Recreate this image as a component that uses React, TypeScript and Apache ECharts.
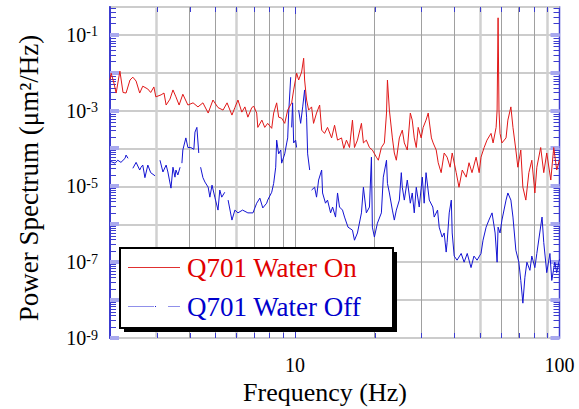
import React, { useEffect, useRef } from "react";
import * as echarts from "echarts";

const FONT = '"Liberation Serif", "Times New Roman", serif';

// Q701 Water On (red)
const onFreq = [
  2.0, 2.02, 2.07, 2.11, 2.18, 2.24, 2.3, 2.38, 2.44, 2.51, 2.59, 2.66, 2.78, 2.85, 2.93, 2.98,
  3.12, 3.2, 3.26, 3.37, 3.46, 3.55, 3.65, 3.77, 3.94, 4.12, 4.3, 4.49, 4.7, 4.9, 5.12, 5.35,
  5.54, 5.78, 5.93, 6.09, 6.3, 6.47, 6.64, 6.87, 6.99, 7.17, 7.24, 7.5, 7.69, 7.89, 8.17, 8.31,
  8.53, 8.68, 8.91, 9.15, 9.39, 9.72, 9.89, 10.15, 10.33, 10.6, 10.79, 10.88, 11.07, 11.27,
  11.56, 11.76, 12.07, 12.4, 12.62, 12.94, 13.28, 13.76, 14.12, 14.49, 15.0, 15.3, 15.66,
  16.08, 16.5, 16.79, 17.23, 17.84, 18.15, 18.62, 19.13, 19.62, 20.32, 20.67, 21.22, 21.78,
  22.19, 22.37, 22.75, 23.35, 23.75, 24.17, 24.81, 25.46, 25.91, 26.59, 27.3, 27.76, 28.25,
  28.75, 29.24, 30.0, 30.53, 31.3, 31.9, 32.8, 33.3, 34.2, 34.8, 35.7, 36.65, 37.6, 38.6, 39.3,
  40.7, 41.7, 42.9, 44.4, 45.5, 46.7, 48.4, 49.7, 50.5, 51.9, 53.2, 55.1, 56.1, 57.6, 58.1,
  58.6, 59.05, 59.6, 60.6, 62.8, 63.8, 65.5, 66.7, 68.4, 69.6, 71.4, 72.7, 74.6, 76.6, 78.6,
  80.7, 82.1, 84.9, 87.2, 89.5, 92.7, 95.1, 97.6, 100,
];
const onPower = [
  6.4e-3, 9.7e-3, 5.3e-3, 2.9e-3, 1.1e-2, 3.0e-3, 2.9e-3, 6.4e-3, 7.6e-3, 6.0e-3, 2.9e-3, 4.4e-3,
  3.7e-3, 3.0e-3, 4.2e-3, 2.3e-3, 2.6e-3, 2.9e-3, 1.4e-3, 2.0e-3, 3.5e-3, 2.3e-3, 1.4e-3, 2.7e-3,
  1.4e-3, 1.6e-3, 1.25e-3, 1.6e-3, 8.6e-4, 1.9e-3, 1.2e-3, 1.03e-3, 1.6e-3, 7.6e-4, 1.2e-3,
  1.9e-3, 9.1e-4, 1.25e-3, 6.7e-4, 1.2e-3, 1.3e-3, 8.6e-4, 3.6e-4, 5.6e-4, 3.6e-4, 4.6e-4,
  3.4e-4, 8.6e-4, 1.6e-3, 6.7e-4, 6.3e-4, 4.6e-4, 1.03e-3, 1.6e-3, 3.5e-3, 9.7e-3, 6.4e-3,
  1.04e-2, 2.4e-2, 6.4e-3, 1.9e-3, 1.03e-3, 1.25e-3, 4.6e-4, 8.6e-4, 1.4e-3, 3.05e-4, 2.5e-4,
  3.6e-4, 1.9e-4, 4.1e-4, 1.66e-4, 1.9e-4, 1.0e-4, 1.66e-4, 1.06e-4, 5.6e-4, 1.06e-4, 1.66e-4,
  4.6e-4, 1.4e-4, 1.66e-4, 1.06e-4, 9.1e-5, 5.9e-5, 4.9e-5, 1.06e-4, 1.4e-4, 8.6e-4, 6.4e-3,
  1.03e-3, 1.9e-4, 7.6e-5, 4.9e-5, 1.9e-4, 3.05e-4, 1.4e-4, 9.1e-5, 8.6e-4, 5.6e-4, 1.9e-4,
  1.06e-4, 3.6e-4, 1.9e-4, 3.6e-4, 5.6e-4, 8.6e-4, 1.9e-4, 1.4e-4, 9.1e-5, 4.2e-5, 2.3e-5,
  7.6e-5, 5.9e-5, 3.2e-5, 7.6e-5, 2.3e-5, 9.5e-6, 2.7e-5, 1.75e-5, 4.2e-5, 2.3e-5, 5.9e-5,
  2.3e-5, 5.9e-5, 1.06e-4, 1.66e-4, 2.5e-4, 1.4e-4, 3.6e-4, 1.03e-3, 0.28, 1.03e-3, 2.5e-4,
  1.4e-4, 1.9e-4, 5.6e-4, 1.25e-3, 3.6e-4, 9.1e-5, 3.2e-5, 9.1e-5, 9.5e-6, 4.35e-6, 2.3e-5,
  4.9e-5, 6.7e-6, 3.2e-5, 1.06e-4, 2.3e-5, 7.6e-5, 1.47e-5, 1.06e-4, 2.7e-5, 5.0e-5,
];

// Q701 Water Off (blue); null = gap in the trace
const offFreq = [
  2.0, 2.09, 2.14, 2.2, 2.28, 2.3, 2.34, 2.39, 2.44, 2.51, 2.59, 2.62, 2.66, 2.71, 2.78, 2.85,
  2.96, 3.02, 3.09, 3.17, 3.26, 3.31, 3.4, 3.46, 3.52, 3.55, 3.61, 3.68, 3.71, 3.74, 3.77, 3.87,
  3.94, 4.04, 4.15, 4.19, 4.26, 4.33, 4.35, 4.4, 4.49, 4.57, 4.7, 4.77, 4.86, 4.98, 5.12, 5.2,
  5.29, 5.43, 5.5, 5.59, 5.78, 5.93, 6.09, 6.34, 6.64, 6.94, 7.17, 7.37, 7.56, 7.82, 7.89, 8.17,
  8.31, 8.46, 8.53, 8.68, 8.84, 8.91, 9.15, 9.31, 9.39, 9.47, 9.64, 9.68, 9.72, 9.8, 9.89,
  10.06, 10.15, 10.24, 10.33, 10.51, 10.7, 10.88, 11.07, 11.17, 11.37, 11.46, 11.56, 11.87,
  12.07, 12.29, 12.62, 12.72, 13.05, 13.28, 13.64, 13.88, 14.24, 14.49, 14.74, 15.13, 15.4,
  15.87, 16.5, 16.79, 17.23, 17.84, 18.15, 18.62, 19.13, 19.46, 19.62, 19.97, 20.5, 21.22,
  21.58, 22.19, 22.37, 22.75, 23.35, 23.75, 24.17, 24.81, 25.24, 25.46, 25.91, 26.59, 27.3,
  27.76, 28.25, 28.75, 29.5, 30.3, 30.8, 31.3, 32.2, 33.2, 33.6, 34.6, 35.1, 36.0, 36.65, 37.3,
  37.6, 38.3, 39.0, 39.3, 40.0, 41.0, 42.5, 43.6, 44.8, 46.3, 47.5, 48.8, 50.5, 51.4, 52.8,
  54.1, 55.6, 57.1, 58.1, 58.6, 59.6, 60.6, 62.8, 63.8, 65.5, 66.7, 68.4, 70.2, 71.4, 72.7,
  74.0, 75.3, 77.3, 78.6, 80.7, 82.1, 84.2, 85.9, 87.2, 89.5, 92.0, 93.5, 96.0, 97.6, 100,
];
const offPower = [
  4.6e-5, 4.1e-5, 4.9e-5, 4.3e-5, 5.5e-5, 6.7e-5, 5.5e-5, null, 3.0e-5, 4.3e-5, 2.7e-5, 3.2e-5,
  3.65e-5, 1.7e-5, 3.65e-5, 2.3e-5, 1.9e-5, null, 4.9e-5, 2.4e-5, 3.65e-5, 2.4e-5, 9.0e-6,
  3.2e-5, 1.75e-5, 2.7e-5, 2.0e-5, 3.2e-5, null, 4.1e-5, 9.1e-5, 1.9e-4, 1.06e-4, 1.06e-4,
  9.5e-5, 2.7e-4, 3.6e-4, 7.6e-5, null, 3.2e-5, 1.7e-5, 1.3e-5, 9.5e-6, 5.2e-6, 1.08e-5,
  5.2e-6, 2.37e-6, 8.0e-6, 5.2e-6, 7.0e-6, null, 4.35e-6, 1.29e-6, 2.37e-6, 2.0e-6, 2.37e-6,
  2.0e-6, 2.0e-6, 3.6e-6, 4.9e-6, 2.7e-6, 3.6e-6, 4.35e-6, 7.0e-6, 1.2e-5, 3.2e-5, 1.66e-4,
  7.2e-5, 9.1e-5, 4.1e-5, 7.2e-5, 1.4e-4, 1.9e-4, 8.6e-4, 7.6e-3, null, 3.6e-4, 1.6e-3,
  1.4e-4, 1.66e-4, 1.06e-4, null, 1.03e-3, 4.6e-4, 1.25e-3, 3.5e-3, 6.7e-4, 7.2e-5, 2.7e-5,
  null, 8.0e-6, 9.5e-6, 5.2e-6, 1.47e-5, 2.7e-5, 6.7e-6, 3.6e-6, 4.35e-6, 2.0e-6, 2.85e-6,
  1.55e-6, 6.7e-6, 2.85e-6, 2.37e-6, 1.55e-6, 8.4e-7, 7.0e-7, 3.8e-7, 5.9e-7, 2.0e-6, 9.5e-6,
  2.0e-6, 2.85e-6, 5.9e-5, 8.4e-7, 4.6e-7, 1.07e-6, 2.0e-6, 1.75e-5, 4.9e-5, 1.2e-5, 6.7e-6,
  2.37e-6, 1.29e-6, 2.37e-6, 4.35e-6, 2.3e-5, 9.5e-6, 4.35e-6, 1.47e-5, 3.6e-6, 6.7e-6,
  2.0e-6, 9.5e-6, 2.85e-6, 1.75e-5, 3.6e-6, 2.3e-5, 4.35e-6, 2.85e-6, 1.55e-6, 2.37e-6,
  8.4e-7, 4.6e-7, 5.9e-7, 1.85e-7, 3.3e-7, 2.0e-6, 4.35e-6, 5.9e-7, 1.45e-7, 1.13e-7, 1.7e-7,
  1.0e-7, 1.7e-7, 7.2e-8, 1.45e-7, 1.13e-7, 1.7e-7, 3.8e-7, 8.4e-7, 1.29e-6, 2.0e-6, 5.9e-7,
  1.0e-7, 8.4e-7, 5.9e-7, 1.29e-6, 4.35e-6, 6.7e-6, 4.35e-6, 1.55e-6, 2.07e-7, 1.0e-7, 3.3e-8,
  8.3e-9, 4.0e-8, 1.0e-7, 6.1e-8, 1.45e-7, 7.2e-8, 1.7e-7, 5.9e-7, 1.55e-6, 3.3e-7, 5.3e-8,
  1.7e-7, 3.3e-8, 1.0e-7, 5.3e-8, 1.2e-7,
];

const seriesNames = ["Q701 Water On", "Q701 Water Off"];
const xLabelValues = [10, 100];
const xGridLight = [3, 6, 50, 90];
const xGridDark = [4, 5, 7, 8, 9, 10, 20, 30, 40, 60, 70, 80];
const X_MIN = 2;
const X_MAX = 100;
const Y_MIN = 1e-9;
const Y_MAX = 0.54;

export default function App() {
  const ref = useRef<HTMLDivElement>(null);

  useEffect(() => {
    if (!ref.current) return;
    const chart = echarts.init(ref.current, null, { renderer: "svg" });

    const onData = onFreq.map((f, i) => [f, onPower[i]]);
    const offData = offFreq.map((f, i) => [f, offPower[i] == null ? "-" : offPower[i]]);

    // axis tick marks: [x, y, kind]  kind 0 = y minor, 1 = y decade, 2 = x minor, 3 = x decade
    const tickData: number[][] = [];
    for (let e = -9; e <= -1; e++) {
      tickData.push([X_MIN, Math.pow(10, e), 1]);
      for (let k = 2; k <= 9; k++) {
        const v = k * Math.pow(10, e);
        if (v < Y_MAX) tickData.push([X_MIN, v, 0]);
      }
    }
    [...xGridLight, ...xGridDark].forEach((v) =>
      tickData.push([v, Y_MIN, v === 10 ? 3 : 2])
    );

    const gridLines = [
      ...xGridLight.map((v) => ({ xAxis: v, lineStyle: { color: "#d0d0d0", width: 2.5, type: "solid" } })),
      ...xGridDark.map((v) => ({ xAxis: v, lineStyle: { color: "#a0a0a0", width: 1, type: "solid" } })),
    ];

    const isDecade = (v: number) => Math.abs(Math.log10(v) - Math.round(Math.log10(v))) < 1e-6;
    const Z = 100;

    chart.setOption({
      animation: false,
      textStyle: { fontFamily: FONT },
      grid: {
        left: 110,
        right: 19.5,
        top: 7,
        bottom: 71,
        show: true,
        borderColor: "#3c3cd0",
        borderWidth: 1.5,
        backgroundColor: "#ffffff",
      },
      xAxis: {
        type: "log",
        logBase: 10,
        min: X_MIN,
        max: X_MAX,
        axisLine: { show: false },
        axisTick: { show: false },
        splitLine: { show: false },
        axisLabel: {
          margin: 17,
          color: "#000",
          fontSize: 20,
          lineHeight: 20,
          fontFamily: FONT,
          formatter: (v: number) =>
            isDecade(v) && xLabelValues.some((t) => Math.abs(t - v) < 1e-6) ? String(Math.round(v)) : "",
        },
      },
      yAxis: {
        type: "log",
        logBase: 10,
        min: Y_MIN,
        max: Y_MAX,
        axisLine: { show: true, lineStyle: { color: "#3c3cd0", width: 2 } },
        axisTick: { show: false },
        splitLine: { show: true, lineStyle: { color: "#cccccc", width: 2 } },
        axisLabel: {
          margin: 12,
          color: "#000",
          formatter: (v: number) => {
            if (!isDecade(v)) return "";
            const e = Math.round(Math.log10(v));
            if (e % 2 === 0) return "";
            return `{b|10}{s|${e}}`;
          },
          rich: {
            b: { fontSize: 20, fontFamily: FONT, color: "#000" },
            s: { fontSize: 14, fontFamily: FONT, color: "#000", verticalAlign: "top" },
          },
        },
      },
      series: [
        {
          type: "custom",
          name: "ticks",
          data: tickData,
          encode: { x: 0, y: 1 },
          z: 1,
          silent: true,
          clip: false,
          renderItem: (params: any, api: any) => {
            const cs = params.coordSys;
            const kind = api.value(2);
            const left = cs.x;
            const right = cs.x + cs.width;
            const top = cs.y;
            const bottom = cs.y + cs.height;
            if (kind === 0 || kind === 1) {
              const y = Math.round(api.coord([X_MIN, api.value(1)])[1]);
              if (kind === 1) {
                return {
                  type: "group",
                  children: [
                    { type: "rect", shape: { x: left, y: y - 2, width: 9, height: 4 }, style: { fill: "#a9a9ee" } },
                    { type: "rect", shape: { x: right - 9, y: y - 2, width: 9, height: 4 }, style: { fill: "#a9a9ee" } },
                  ],
                };
              }
              const yy = y + 0.5;
              return {
                type: "group",
                children: [
                  { type: "line", shape: { x1: left, y1: yy, x2: left + 6, y2: yy }, style: { stroke: "#3c3cd0", lineWidth: 1 } },
                  { type: "line", shape: { x1: right - 6, y1: yy, x2: right, y2: yy }, style: { stroke: "#3c3cd0", lineWidth: 1 } },
                ],
              };
            }
            const x = Math.round(api.coord([api.value(0), Y_MIN])[0]) + 0.5;
            const len = kind === 3 ? 7 : 5;
            return {
              type: "group",
              children: [
                { type: "line", shape: { x1: x, y1: bottom, x2: x, y2: bottom - len }, style: { stroke: "#3c3cd0", lineWidth: 1 } },
                { type: "line", shape: { x1: x, y1: top, x2: x, y2: top + len }, style: { stroke: "#3c3cd0", lineWidth: 1 } },
              ],
            };
          },
          markLine: {
            silent: true,
            symbol: ["none", "none"],
            label: { show: false },
            z: 1,
            data: gridLines,
          },
        },
        {
          type: "line",
          name: seriesNames[1],
          data: offData,
          symbol: "none",
          showSymbol: false,
          connectNulls: false,
          lineStyle: { color: "#1414d2", width: 1 },
          z: 3,
        },
        {
          type: "line",
          name: seriesNames[0],
          data: onData,
          symbol: "none",
          showSymbol: false,
          lineStyle: { color: "#e01818", width: 1 },
          z: 4,
        },
      ],
      graphic: [
        {
          type: "text",
          x: 29,
          y: 178,
          rotation: Math.PI / 2,
          style: {
            text: "Power Spectrum (μm²/Hz)",
            font: `27px ${FONT}`,
            fill: "#000",
            align: "center",
            verticalAlign: "middle",
            textAlign: "center",
            textVerticalAlign: "middle",
          },
        },
        {
          type: "text",
          x: 325,
          y: 392,
          style: {
            text: "Frequency (Hz)",
            font: `26px ${FONT}`,
            fill: "#000",
            align: "center",
            verticalAlign: "middle",
            textAlign: "center",
            textVerticalAlign: "middle",
          },
        },
        { type: "rect", z: Z, shape: { x: 124, y: 252, width: 273, height: 80 }, style: { fill: "#000" } },
        { type: "rect", z: Z + 1, shape: { x: 120, y: 248, width: 273, height: 80 }, style: { fill: "#ffffff", stroke: "#000", lineWidth: 2 } },
        { type: "line", z: Z + 2, shape: { x1: 128, y1: 267.5, x2: 180, y2: 267.5 }, style: { stroke: "#e03030", lineWidth: 1 } },
        {
          type: "text",
          z: Z + 2,
          x: 187,
          y: 268,
          style: {
            text: seriesNames[0],
            font: `27px ${FONT}`,
            fill: "#e00000",
            align: "left",
            verticalAlign: "middle",
            textAlign: "left",
            textVerticalAlign: "middle",
          },
        },
        { type: "line", z: Z + 2, shape: { x1: 128, y1: 306.5, x2: 154, y2: 306.5 }, style: { stroke: "#9090ea", lineWidth: 1 } },
        { type: "rect", z: Z + 2, shape: { x: 155, y: 306, width: 1, height: 1 }, style: { fill: "#1414d2" } },
        { type: "line", z: Z + 2, shape: { x1: 168, y1: 306.5, x2: 180, y2: 306.5 }, style: { stroke: "#9090ea", lineWidth: 1 } },
        {
          type: "text",
          z: Z + 2,
          x: 187,
          y: 307,
          style: {
            text: seriesNames[1],
            font: `27px ${FONT}`,
            fill: "#0000cc",
            align: "left",
            verticalAlign: "middle",
            textAlign: "left",
            textVerticalAlign: "middle",
          },
        },
      ],
    });

    return () => chart.dispose();
  }, []);

  return (
    <div
      ref={ref}
      style={{ position: "fixed", left: 0, top: 0, width: 579, height: 409, background: "#fff" }}
    />
  );
}
